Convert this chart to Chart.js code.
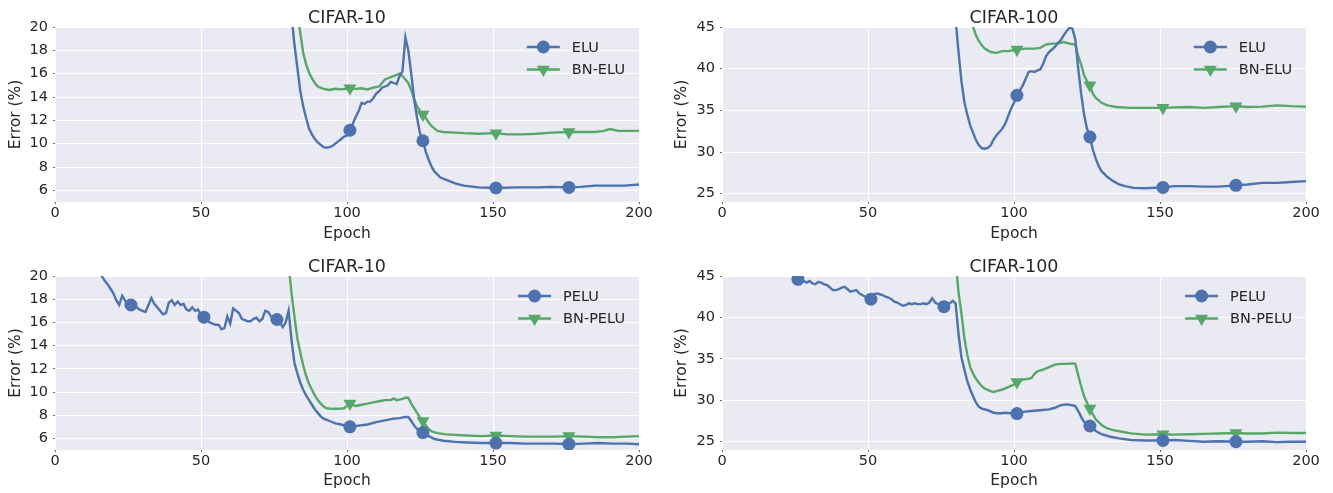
<!DOCTYPE html>
<html>
<head>
<meta charset="utf-8">
<script src="https://cdn.jsdelivr.net/npm/chart.js@4.4.1/dist/chart.umd.min.js"></script>
<style>
  body { margin: 0; background: #fff; }
  .panel { position: absolute; }
</style>
</head>
<body>
<div class="panel" style="left:0;top:0"><canvas id="c1" width="666" height="246"></canvas></div>
<div class="panel" style="left:666px;top:0"><canvas id="c2" width="667" height="246"></canvas></div>
<div class="panel" style="left:0;top:246px"><canvas id="c3" width="666" height="247"></canvas></div>
<div class="panel" style="left:666px;top:246px"><canvas id="c4" width="667" height="247"></canvas></div>
<script>
// ---- data ----
var epochTicks = [0, 50, 100, 150, 200];
var c10Ticks = [6, 8, 10, 12, 14, 16, 18, 20];
var c100Ticks = [25, 30, 35, 40, 45];
var markEpochs = [1, 26, 51, 76, 101, 126, 151, 176];

// CIFAR-10, ELU vs BN-ELU
var eluC10Epoch = [80,81,82,83,84,85,86,87,88,89,90,91,92,93,94,95,96,97,98,99,100,101,102,103,104,105,106,107,108,109,110,111,112,113,114,115,116,117,118,119,120,121,122,123,124,125,126,127,128,129,130,132,134,137,140,145,151,158,165,170,176,180,185,190,195,200];
var eluC10Err = [24,21,18.5,16.5,14.5,13.2,12.2,11.3,10.8,10.4,10.1,9.9,9.7,9.65,9.7,9.8,10.0,10.2,10.4,10.6,10.7,11.15,11.7,12.3,12.8,13.5,13.4,13.6,13.6,13.9,14.3,14.5,14.8,14.9,15.0,15.3,15.2,15.1,15.8,16.2,19.1,18.0,16.0,13.8,12.2,10.9,10.25,9.3,8.6,8.0,7.6,7.1,6.9,6.6,6.4,6.25,6.2,6.25,6.25,6.3,6.25,6.3,6.4,6.4,6.4,6.5];
var bnEluC10Epoch = [83,84,85,86,87,88,89,90,92,94,96,98,101,103,105,107,109,111,112,113,115,117,118,119,120,121,122,123,124,125,126,127,128,129,131,133,137,140,145,151,155,160,165,170,176,180,185,188,190,193,196,200];
var bnEluC10Err = [21,19.5,17.8,16.8,16.1,15.6,15.2,14.9,14.7,14.6,14.7,14.65,14.75,14.7,14.75,14.65,14.8,14.9,15.2,15.5,15.7,15.9,16.0,15.8,15.5,15.2,14.6,13.8,13.2,12.8,12.5,12.2,11.8,11.5,11.1,11.0,10.95,10.9,10.85,10.9,10.8,10.8,10.85,10.95,11.0,11.0,11.0,11.1,11.25,11.1,11.1,11.1];

// CIFAR-100, ELU vs BN-ELU
var eluC100Epoch = [79,80,81,82,83,84,85,86,87,88,89,90,91,92,93,94,95,96,97,98,99,100,101,102,103,104,105,106,107,108,109,110,111,112,113,114,115,116,117,118,119,120,121,122,123,124,125,126,127,128,129,130,132,134,136,138,141,145,151,155,160,165,170,176,180,185,190,195,200];
var eluC100Err = [50,46,42,38.5,36,34.5,33.2,32.3,31.4,30.8,30.45,30.4,30.5,30.8,31.5,32.0,32.4,32.8,33.4,34.3,35.2,35.9,36.8,37.4,38.0,38.8,39.6,39.7,39.6,39.8,39.9,40.6,41.5,42.0,42.3,42.6,43.1,43.4,44.0,44.5,44.9,44.8,43.5,40.0,37.0,34.5,32.8,31.8,30.3,29.2,28.3,27.7,27.0,26.5,26.1,25.9,25.7,25.65,25.75,25.9,25.9,25.85,25.85,26.0,26.1,26.3,26.3,26.4,26.5];
var bnEluC100Epoch = [85,86,87,88,89,90,92,94,96,98,101,104,107,109,111,113,115,117,119,121,122,123,124,125,126,127,128,130,132,135,140,145,151,155,160,165,170,176,180,185,190,195,200];
var bnEluC100Err = [47,45,44,43.3,42.8,42.4,42.0,41.9,42.1,42.1,42.3,42.4,42.4,42.5,42.9,43.0,43.0,43.2,43.0,42.9,41.5,40.5,39.2,38.5,38.0,37.0,36.5,35.9,35.6,35.4,35.3,35.3,35.3,35.35,35.4,35.3,35.4,35.5,35.4,35.45,35.6,35.5,35.45];

// CIFAR-10, PELU vs BN-PELU
var peluC10Epoch = [15,16,17,18,19,20,21,22,23,24,25,26,27,28,29,30,31,32,33,34,35,36,37,38,39,40,41,42,43,44,45,46,47,48,49,50,51,52,53,54,55,56,57,58,59,60,61,62,63,64,65,66,67,68,69,70,71,72,73,74,75,76,77,78,79,80,81,82,83,84,85,86,87,88,89,90,91,92,94,96,98,101,104,107,110,113,116,118,120,121,122,123,124,126,128,130,133,137,141,146,151,156,161,166,171,176,181,186,191,196,200];
var peluC10Err = [21,20.0,19.6,19.3,18.9,18.5,17.9,17.5,18.3,17.9,17.4,17.5,17.3,17.3,17.1,17.0,16.9,17.5,18.1,17.6,17.3,17.0,16.7,16.8,17.7,17.9,17.5,17.8,17.5,17.6,17.1,17.0,17.3,17.0,17.1,16.6,16.45,16.2,16.0,15.9,15.8,15.8,15.4,15.5,16.5,15.9,17.2,17.0,16.8,16.3,16.2,16.1,16.1,16.3,16.4,16.1,16.3,17.0,16.9,16.5,16.4,16.25,16.0,15.6,16.0,17.0,14.5,12.5,11.6,10.8,10.2,9.7,9.3,8.9,8.5,8.2,7.9,7.7,7.5,7.3,7.2,7.0,7.1,7.2,7.4,7.55,7.7,7.75,7.85,7.85,7.5,7.1,6.8,6.5,6.2,5.95,5.8,5.7,5.65,5.6,5.6,5.6,5.55,5.55,5.55,5.5,5.55,5.6,5.55,5.55,5.5];
var bnPeluC10Epoch = [80,81,82,83,84,85,86,87,88,89,90,91,92,93,95,97,99,101,103,105,107,109,111,113,115,116,117,119,120,121,122,123,124,125,126,127,128,129,131,134,137,141,146,151,156,161,166,171,176,181,186,191,196,200];
var bnPeluC10Err = [21,18.5,16.5,14.6,13.4,12.3,11.4,10.7,10.2,9.7,9.3,9.0,8.75,8.6,8.55,8.55,8.6,9.0,8.8,8.9,9.0,9.1,9.2,9.3,9.3,9.45,9.3,9.4,9.5,9.5,9.0,8.6,8.2,7.8,7.5,7.1,6.8,6.6,6.45,6.35,6.3,6.25,6.2,6.25,6.2,6.15,6.15,6.15,6.2,6.15,6.1,6.1,6.15,6.2];

// CIFAR-100, PELU vs BN-PELU
var peluC100Epoch = [24,25,26,27,28,29,30,31,32,33,34,35,36,37,38,39,40,41,42,43,44,45,46,47,48,49,50,51,52,53,54,55,56,57,58,59,60,61,62,63,64,65,66,67,68,69,70,71,72,73,74,75,76,77,78,79,80,81,82,83,84,85,86,87,88,89,91,93,95,97,99,101,103,106,109,112,114,116,118,120,121,122,123,124,126,128,130,133,136,140,145,151,155,160,165,170,176,180,185,190,195,200];
var peluC100Err = [45.5,45.0,44.6,44.3,44.4,44.2,44.4,44.1,44.0,44.3,44.2,44.0,43.9,43.6,43.3,43.3,43.4,43.6,43.7,43.4,43.1,43.2,43.3,42.9,42.7,42.5,42.4,42.2,42.8,42.9,42.8,42.7,42.5,42.4,42.2,41.9,41.8,41.6,41.4,41.5,41.7,41.6,41.7,41.6,41.6,41.7,41.6,41.8,42.3,41.8,41.6,41.5,41.3,41.6,41.7,42.0,41.7,38.0,35.2,33.7,32.3,31.3,30.5,29.7,29.2,29.0,28.8,28.5,28.4,28.5,28.45,28.4,28.6,28.7,28.8,28.9,29.1,29.4,29.5,29.4,29.3,28.7,28.0,27.4,26.9,26.3,25.9,25.6,25.4,25.2,25.15,25.15,25.2,25.1,25.0,25.05,25.0,25.0,25.05,24.95,25.0,25.0];
var bnPeluC100Epoch = [80,81,82,83,84,85,86,87,88,89,90,92,93,94,96,98,100,101,103,105,106,107,108,110,112,114,116,118,120,121,122,123,124,125,126,127,128,130,132,134,137,140,145,151,155,160,165,170,176,180,185,190,195,200];
var bnPeluC100Err = [47,43,40.5,37.5,35.5,34.0,33.2,32.6,32.1,31.7,31.4,31.1,31.0,31.1,31.3,31.6,31.9,32.2,32.5,32.6,32.7,33.2,33.5,33.7,34.0,34.3,34.4,34.4,34.45,34.4,33.0,31.7,30.5,29.7,29.0,28.3,27.7,27.0,26.6,26.4,26.2,26.0,25.85,25.9,25.85,25.9,25.95,26.0,26.05,26.0,26.0,26.1,26.05,26.05];

// ---- style ----
var BLUE = "#4C72B0";
var GREEN = "#55A868";
var TEXT = "#262626";
var FONT = "DejaVu Sans";

function points(xs, ys) {
  return xs.map(function (x, i) { return { x: x, y: ys[i] }; });
}

function fixedTicks(list) {
  return function (s) { s.ticks = list.map(function (v) { return { value: v }; }); };
}

function series(label, xs, ys, color, style) {
  var r = style == "circle" ? 6.5 : 7.5;
  return {
    label: label,
    data: points(xs, ys),
    borderColor: color,
    backgroundColor: color,
    borderWidth: 2.4,
    pointStyle: style,
    pointRotation: style == "triangle" ? 180 : 0,
    pointRadius: function (ctx) {
      return ctx.raw && markEpochs.indexOf(ctx.raw.x) >= 0 ? r : 0;
    },
    pointHoverRadius: 0,
    pointBorderWidth: 0,
    tension: 0,
    markR: r
  };
}

// draws the grey plot area, the title and the in-plot legend
var panelPlugin = {
  id: "panel",
  beforeDraw: function (chart) {
    var a = chart.chartArea, c = chart.ctx;
    c.save();
    c.fillStyle = "#EAEAF2";
    c.fillRect(a.left, a.top, a.right - a.left, a.bottom - a.top);
    c.restore();
  },
  afterDatasetsDraw: function (chart) {
    var a = chart.chartArea, c = chart.ctx;
    c.save();
    c.font = "14.5px " + FONT;
    var maxW = 0;
    chart.data.datasets.forEach(function (d) {
      maxW = Math.max(maxW, c.measureText(d.label).width);
    });
    var tx = a.right - 14 - maxW;
    chart.data.datasets.forEach(function (d, i) {
      var y = a.top + 20 + i * 22.5;
      c.strokeStyle = d.borderColor;
      c.lineWidth = d.borderWidth;
      c.beginPath();
      c.moveTo(tx - 45, y);
      c.lineTo(tx - 12, y);
      c.stroke();
      var mx = tx - 28.5;
      c.fillStyle = d.borderColor;
      c.beginPath();
      if (d.pointStyle == "circle") {
        c.arc(mx, y, d.markR, 0, Math.PI * 2);
      } else {
        var r = d.markR;
        c.moveTo(mx, y + r);
        c.lineTo(mx - r * 0.866, y - r / 2);
        c.lineTo(mx + r * 0.866, y - r / 2);
        c.closePath();
      }
      c.fill();
      c.fillStyle = TEXT;
      c.textBaseline = "middle";
      c.textAlign = "left";
      c.fillText(d.label, tx, y + 1);
    });
    c.restore();
  },
  afterDraw: function (chart, args, opts) {
    var a = chart.chartArea, c = chart.ctx;
    c.save();
    c.font = "17.5px " + FONT;
    c.fillStyle = TEXT;
    c.textAlign = "center";
    c.textBaseline = "alphabetic";
    c.fillText(opts.title, (a.left + a.right) / 2, a.top - 4);
    c.restore();
  }
};

function makeChart(id, title, datasets, yMin, yMax, yTicks, yWidth, padTop, xHeight) {
  var ctx = document.getElementById(id).getContext("2d");
  return new Chart(ctx, {
    type: "line",
    data: { datasets: datasets },
    plugins: [panelPlugin],
    options: {
      responsive: false,
      animation: false,
      events: [],
      devicePixelRatio: 1,
      layout: { padding: { left: 0, right: 27, top: padTop, bottom: 0 } },
      plugins: {
        legend: { display: false },
        tooltip: { enabled: false },
        panel: { title: title }
      },
      scales: {
        x: {
          type: "linear",
          min: 0,
          max: 200,
          afterBuildTicks: fixedTicks(epochTicks),
          afterFit: function (s) { s.height = xHeight; },
          ticks: { color: TEXT, font: { family: FONT, size: 14.5 }, padding: 1, maxRotation: 0, autoSkip: false },
          grid: { color: "#ffffff", lineWidth: 1, tickLength: 2, tickColor: "#666" },
          border: { display: false },
          title: { display: true, text: "Epoch", color: TEXT, font: { family: FONT, size: 15.5 }, padding: { top: 0, bottom: 3 } }
        },
        y: {
          min: yMin,
          max: yMax,
          afterBuildTicks: fixedTicks(yTicks),
          ticks: { color: TEXT, font: { family: FONT, size: 14.5 }, padding: 5, autoSkip: false },
          afterFit: function (s) { s.width = yWidth; },
          grid: { color: "#ffffff", lineWidth: 1, tickLength: 2, tickColor: "#666" },
          border: { display: false },
          title: { display: true, text: "Error (%)", color: TEXT, font: { family: FONT, size: 15.5 }, padding: { top: 7, bottom: 0 } }
        }
      }
    }
  });
}

makeChart("c1", "CIFAR-10", [
  series("ELU", eluC10Epoch, eluC10Err, BLUE, "circle"),
  series("BN-ELU", bnEluC10Epoch, bnEluC10Err, GREEN, "triangle")
], 5, 20, c10Ticks, 55, 27, 44);

makeChart("c2", "CIFAR-100", [
  series("ELU", eluC100Epoch, eluC100Err, BLUE, "circle"),
  series("BN-ELU", bnEluC100Epoch, bnEluC100Err, GREEN, "triangle")
], 24, 45, c100Ticks, 56, 27, 44);

makeChart("c3", "CIFAR-10", [
  series("PELU", peluC10Epoch, peluC10Err, BLUE, "circle"),
  series("BN-PELU", bnPeluC10Epoch, bnPeluC10Err, GREEN, "triangle")
], 5, 20, c10Ticks, 55, 30, 43);

makeChart("c4", "CIFAR-100", [
  series("PELU", peluC100Epoch, peluC100Err, BLUE, "circle"),
  series("BN-PELU", bnPeluC100Epoch, bnPeluC100Err, GREEN, "triangle")
], 24, 45, c100Ticks, 56, 30, 43);
</script>
</body>
</html>
